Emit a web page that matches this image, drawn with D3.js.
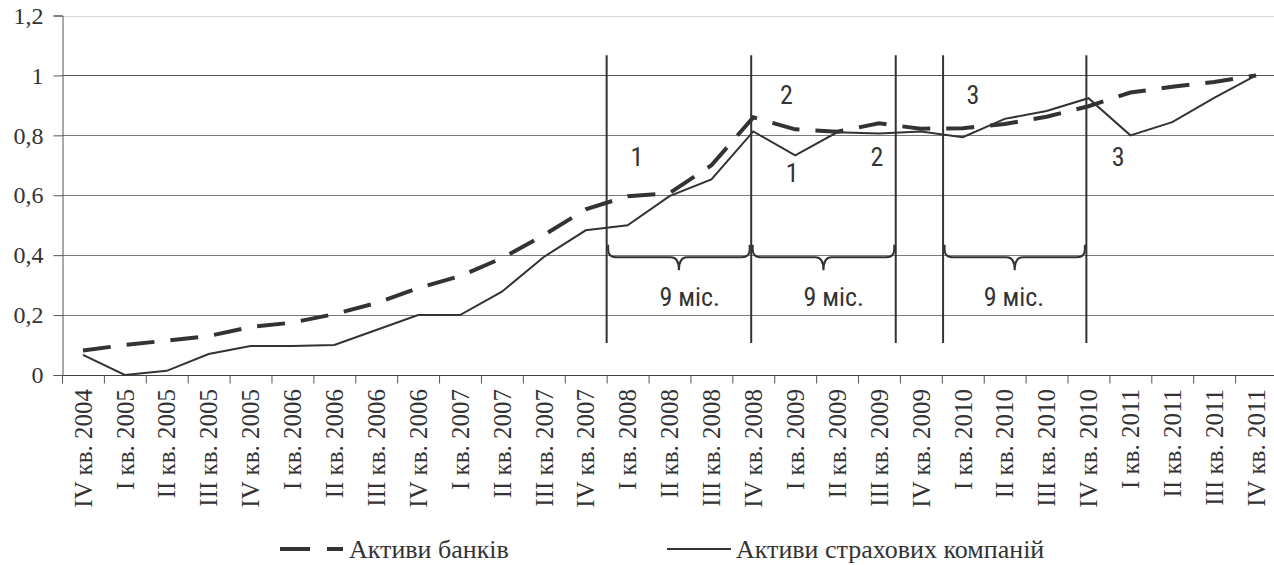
<!DOCTYPE html>
<html><head><meta charset="utf-8">
<script src="https://cdn.jsdelivr.net/npm/d3@7/dist/d3.min.js"></script>
<style>
html,body{margin:0;padding:0;background:#fff;}
svg{display:block;}
.serif{font-family:"Liberation Serif","Tinos","Times New Roman","DejaVu Serif",serif;}
.ann{font-family:"Liberation Sans Narrow","Arial Narrow","Roboto Condensed","DejaVu Sans Condensed",sans-serif;}
</style></head>
<body>
<script>
const categories = ["IV кв. 2004","I кв. 2005","II кв. 2005","III кв. 2005","IV кв. 2005","I кв. 2006","II кв. 2006","III кв. 2006","IV кв. 2006","I кв. 2007","II кв. 2007","III кв. 2007","IV кв. 2007","I кв. 2008","II кв. 2008","III кв. 2008","IV кв. 2008","I кв. 2009","II кв. 2009","III кв. 2009","IV кв. 2009","I кв. 2010","II кв. 2010","III кв. 2010","IV кв. 2010","I кв. 2011","II кв. 2011","III кв. 2011","IV кв. 2011"];
const banks = [0.082,0.10,0.115,0.13,0.16,0.175,0.203,0.24,0.29,0.33,0.39,0.467,0.553,0.597,0.607,0.70,0.86,0.82,0.812,0.84,0.822,0.824,0.838,0.862,0.897,0.943,0.962,0.978,1.0];
const insurance = [0.067,0.0,0.014,0.07,0.097,0.097,0.10,0.15,0.20,0.20,0.278,0.394,0.483,0.50,0.597,0.653,0.813,0.733,0.81,0.806,0.813,0.794,0.855,0.881,0.924,0.80,0.844,0.925,1.0];
const yTicks = [0,0.2,0.4,0.6,0.8,1,1.2];
const seriesNames = ["Активи банків","Активи страхових компаній"];
// annotation positions expressed in category-index units and data values
const vLines = [13, 16.45, 19.9, 21.03, 24.45];
const vLineRange = [0.107, 1.067];
const braces = [[13,16.45],[16.45,19.9],[21.03,24.45]];
const braceLevels = {top:0.435, mid:0.393, tip:0.35};
const braceLabels = [{t:"9 міс.",p:14.98,v:0.23},{t:"9 міс.",p:18.42,v:0.23},{t:"9 міс.",p:22.72,v:0.23}];
const numLabels = [{t:"1",p:13.72,v:0.697},{t:"2",p:17.29,v:0.904},{t:"1",p:17.43,v:0.644},{t:"2",p:19.45,v:0.697},{t:"3",p:21.74,v:0.904},{t:"3",p:25.21,v:0.697}];

const W=1274,H=565;
const svg=d3.select("body").append("svg").attr("width",W).attr("height",H);
const x0=62,x1=1277,yb=375,yt=15.5;
const x=d3.scaleBand().domain(categories).range([x0,x1]);
const xi=d3.scaleLinear().domain([0,categories.length]).range([x0,x1]);
const y=d3.scaleLinear().domain([0,1.2]).range([yb,yt]);
const cx=c=>x(c)+x.bandwidth()/2;

// gridlines
svg.append("g").selectAll("line").data(yTicks.filter(d=>d>0)).join("line")
 .attr("x1",x0).attr("x2",W).attr("y1",d=>Math.round(y(d))+0.5).attr("y2",d=>Math.round(y(d))+0.5)
 .attr("stroke",d=>d===1.2?"#d8d8d8":(d===1?"#555":"#7a7a7a")).attr("stroke-width",1);

// y axis
const yAxis=d3.axisLeft(y).tickValues(yTicks).tickSize(9).tickPadding(10)
 .tickFormat(d=>d3.format("")(d).replace(".",","));
const gy=svg.append("g").attr("transform",`translate(${x0+0.5},0)`).call(yAxis).attr("font-family",null).attr("font-size",null);
gy.select(".domain").attr("stroke","#555");
gy.selectAll(".tick line").attr("stroke","#555");
gy.selectAll("text").attr("class","serif").style("font-size","24px").attr("fill","#333");

// x axis
const xAxis=d3.axisBottom(xi).tickValues(d3.range(0,categories.length+1)).tickSize(8).tickFormat("");
const gx=svg.append("g").attr("transform",`translate(0,${yb+0.5})`).call(xAxis);
gx.select(".domain").attr("stroke","#444").attr("d",`M${x0},0H${W}`);
gx.selectAll(".tick line").attr("stroke","#555");
svg.append("g").selectAll("text").data(categories).join("text")
 .attr("class","serif")
 .attr("transform",d=>`translate(${cx(d)},${yb+14}) rotate(-90)`)
 .attr("text-anchor","end").attr("dy","0.35em")
 .style("font-size","25px").attr("fill","#333")
 .text(d=>d);

// lines
const line=d3.line().x((d,i)=>cx(categories[i])).y(d=>y(d));
svg.append("path").datum(insurance).attr("d",line).attr("fill","none").attr("stroke","#333").attr("stroke-width",2);
svg.append("path").datum(banks).attr("d",line).attr("fill","none").attr("stroke","#333").attr("stroke-width",4).attr("stroke-dasharray","28,16");

// vertical annotation lines
svg.append("g").selectAll("line").data(vLines).join("line")
 .attr("x1",d=>xi(d)).attr("x2",d=>xi(d)).attr("y1",y(vLineRange[0])).attr("y2",y(vLineRange[1]))
 .attr("stroke","#333").attr("stroke-width",2);

// braces
const r=8;
svg.append("g").selectAll("path").data(braces).join("path")
 .attr("d",b=>{const a=xi(b[0])+1.5,e=xi(b[1])-1.5,m=(a+e)/2,yT=y(braceLevels.top),yM=y(braceLevels.mid),yP=y(braceLevels.tip);
   return `M${a},${yT}L${a},${yM-r}Q${a},${yM} ${a+r},${yM}L${m-r},${yM}Q${m},${yM} ${m},${yP}Q${m},${yM} ${m+r},${yM}L${e-r},${yM}Q${e},${yM} ${e},${yM-r}L${e},${yT}`;})
 .attr("fill","none").attr("stroke","#333").attr("stroke-width",2);

svg.append("g").selectAll("text").data(braceLabels.concat(numLabels)).join("text")
 .attr("class","ann")
 .attr("x",d=>xi(d.p)).attr("y",d=>y(d.v)).attr("text-anchor","middle")
 .style("font-size","26px").attr("fill","#333").text(d=>d.t);

// legend
const lg=svg.append("g");
lg.append("line").attr("x1",280).attr("x2",343).attr("y1",549).attr("y2",549).attr("stroke","#333").attr("stroke-width",4).attr("stroke-dasharray","30,17");
lg.append("text").attr("x",349).attr("y",558).text(seriesNames[0]);
lg.append("line").attr("x1",667).attr("x2",731).attr("y1",549).attr("y2",549).attr("stroke","#333").attr("stroke-width",2);
lg.append("text").attr("x",736).attr("y",558).text(seriesNames[1]);
lg.selectAll("text").attr("class","serif").style("font-size","26px").attr("fill","#333");
</script>
</body></html>
